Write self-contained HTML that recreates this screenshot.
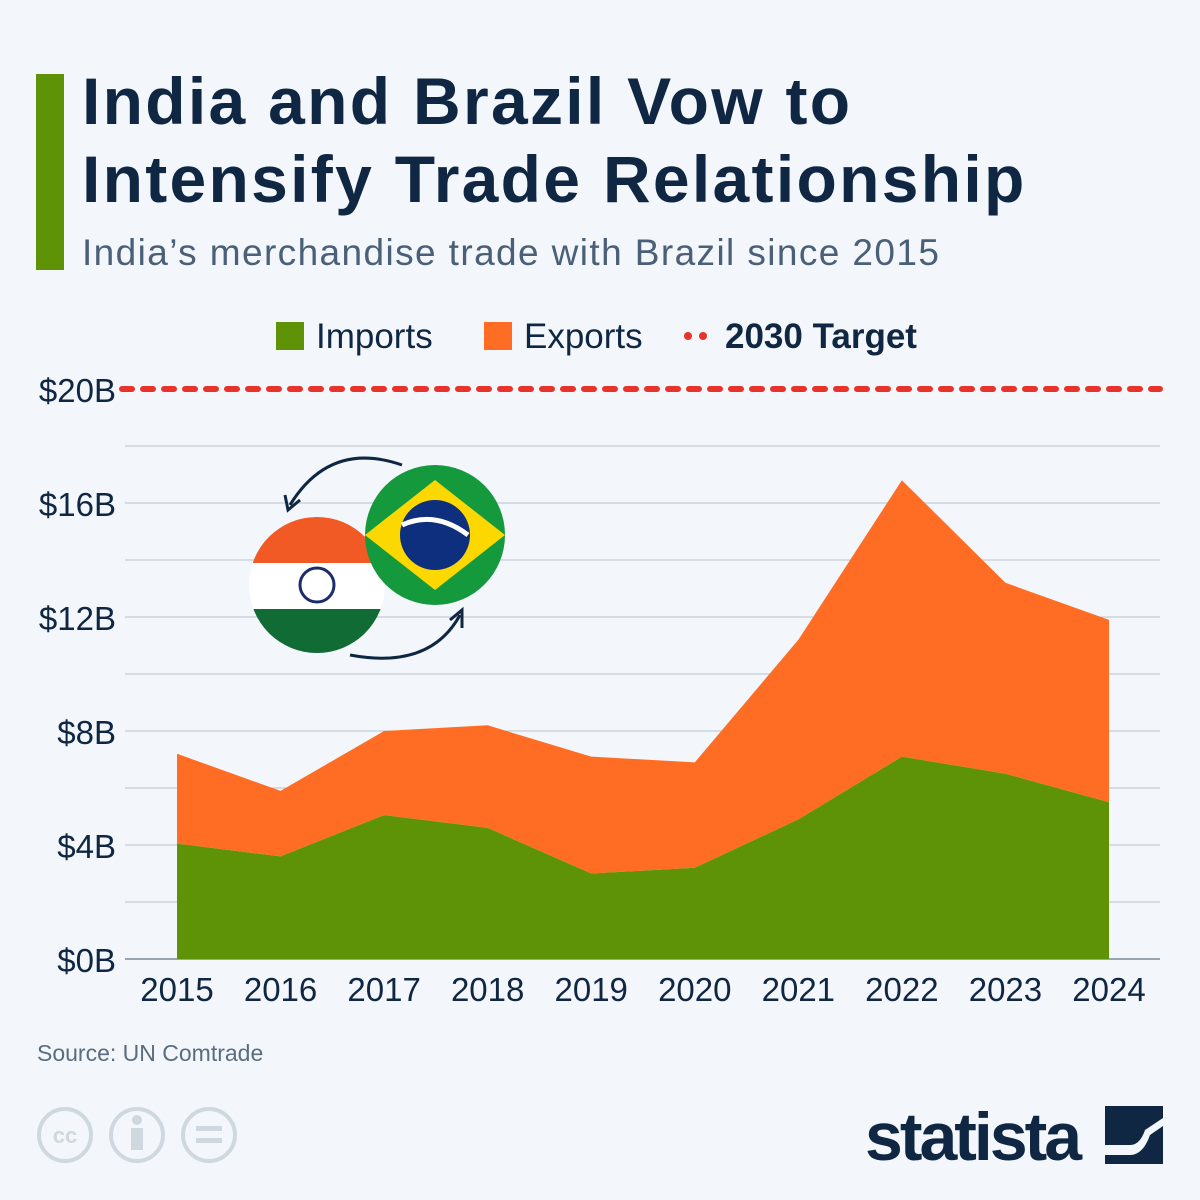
<!DOCTYPE html>
<html><head><meta charset="utf-8"><style>
body{margin:0;width:1200px;height:1200px;background:#f3f6fa;font-family:"Liberation Sans","DejaVu Sans",sans-serif;overflow:hidden;position:relative}
.t{position:absolute;left:82px;top:62px;font-size:66px;font-weight:bold;color:#0f2742;line-height:78px;margin:0;letter-spacing:2.3px}
.bar{position:absolute;left:36px;top:74px;width:28px;height:196px;background:#5e9307}
.sub{position:absolute;left:82px;top:232px;font-size:37px;color:#4a6078;letter-spacing:1.4px}
.src{position:absolute;left:37px;top:1040px;font-size:23px;color:#5a6d80}
.logo{position:absolute;left:865px;top:1098px;font-size:68px;font-weight:bold;color:#0f2742;letter-spacing:-3px}
</style></head><body>
<div class="bar"></div>
<h1 class="t">India and Brazil Vow to<br>Intensify Trade Relationship</h1>
<div class="sub">India’s merchandise trade with Brazil since 2015</div>
<svg id="c" width="1200" height="1200" style="position:absolute;left:0;top:0"></svg>
<div class="src">Source: UN Comtrade</div>
<div class="logo">statista</div>
<svg width="1200" height="1200" style="position:absolute;left:0;top:0;pointer-events:none">
<g fill="none" stroke="#cfd7df" stroke-width="4">
<circle cx="65" cy="1135" r="26"/><circle cx="137" cy="1135" r="26"/><circle cx="209" cy="1135" r="26"/></g>
<text x="65" y="1143" font-size="22" font-weight="bold" fill="#cfd7df" text-anchor="middle" font-family="Liberation Sans">cc</text>
<rect x="196" y="1126" width="26" height="5" fill="#cfd7df"/><rect x="196" y="1138" width="26" height="5" fill="#cfd7df"/>
<circle cx="137" cy="1120" r="5" fill="#cfd7df"/><rect x="131" y="1128" width="12" height="22" fill="#cfd7df"/>
<g><rect x="1105" y="1106" width="58" height="58" fill="#0f2742"/><path d="M1105 1145 L1130 1145 Q1140 1145 1145 1130 L1163 1118 L1163 1126 L1150 1135 Q1143 1155 1130 1155 L1105 1155Z" fill="#f3f6fa"/></g>
</svg>
<script>
const years=["2015","2016","2017","2018","2019","2020","2021","2022","2023","2024"];
const imports=[4.05,3.6,5.05,4.6,3.0,3.2,4.9,7.1,6.5,5.5];
const exportVals=[3.15,2.3,2.95,3.6,4.1,3.7,6.3,9.7,6.7,6.4];
const yTicks=[0,4,8,12,16,20];
const target=20;
const svg=document.getElementById('c');
const NS='http://www.w3.org/2000/svg';
const xs=i=>177+i*(1109-177)/(years.length-1);
const ys=v=>959-v*28.5;
function mk(t,a){const e=document.createElementNS(NS,t);for(const k in a)e.setAttribute(k,a[k]);svg.appendChild(e);return e;}
for(let v=0;v<=18;v+=2){const l=mk('line',{x1:125,x2:1160,y1:ys(v),y2:ys(v),stroke:v===0?'#7a8a99':'#b9c3cc','stroke-width':v===0?1.5:1});

}
yTicks.forEach(v=>{const t=mk('text',{x:116,y:ys(v)+13,'font-size':33,fill:'#0f2742','text-anchor':'end'});t.textContent='$'+v+'B';

});
years.forEach((yr,i)=>{const t=mk('text',{x:xs(i),y:1001,'font-size':33,fill:'#0f2742','text-anchor':'middle'});t.textContent=yr;

});
const topPts=years.map((_,i)=>xs(i)+','+ys(imports[i]+exportVals[i])).join(' ');
const midPts=years.map((_,i)=>xs(i)+','+ys(imports[i])).reverse().join(' ');
const ex=mk('polygon',{points:topPts+' '+midPts,fill:'#ff6d24'});


const impPts=years.map((_,i)=>xs(i)+','+ys(imports[i])).join(' ')+' '+xs(years.length-1)+','+ys(0)+' '+xs(0)+','+ys(0);
const im=mk('polygon',{points:impPts,fill:'#5e9307'});


const tl=mk('line',{x1:122,x2:1160,y1:ys(target),y2:ys(target),stroke:'#e8332a','stroke-width':6,'stroke-dasharray':'10 11','stroke-linecap':'round'});


const lg=[['#5e9307','Imports',276],['#ff6d24','Exports',484]];
lg.forEach(([c,n,lx])=>{const r=mk('rect',{x:lx,y:322,width:28,height:28,fill:c});


const t=mk('text',{x:lx+40,y:348,'font-size':35,fill:'#0f2742'});t.textContent=n;

});
[688,703].forEach(cx=>{const d=mk('circle',{cx:cx,cy:336,r:4,fill:'#e8332a'});

});
const lt=mk('text',{x:725,y:348,'font-size':35,'font-weight':'bold',fill:'#0f2742'});lt.textContent='2030 Target';


const g=document.createElementNS(NS,'g');svg.appendChild(g);


g.innerHTML=`<defs><clipPath id="ci"><circle cx="317" cy="585" r="68"/></clipPath><clipPath id="cb"><circle cx="435" cy="535" r="70"/></clipPath></defs>
<g clip-path="url(#ci)"><rect x="249" y="517" width="136" height="46" fill="#f15a24"/><rect x="249" y="563" width="136" height="46" fill="#fff"/><rect x="249" y="609" width="136" height="46" fill="#116b35"/><circle cx="317" cy="585" r="17" fill="none" stroke="#1d2d6b" stroke-width="3"/></g>
<g clip-path="url(#cb)"><rect x="365" y="465" width="140" height="140" fill="#15993d"/><polygon points="365,535 435,480 505,535 435,590" fill="#fcd800"/><circle cx="435" cy="535" r="35" fill="#0d2f7e"/><path d="M402 525 Q435 510 468 535" stroke="#fff" stroke-width="5" fill="none"/></g>
<path d="M402 465 Q330 440 290 505" stroke="#0f2742" stroke-width="3" fill="none"/><path d="M285 495 L288 510 L300 500" stroke="#0f2742" stroke-width="3" fill="none"/>
<path d="M350 655 Q430 670 460 615" stroke="#0f2742" stroke-width="3" fill="none"/><path d="M450 620 L462 610 L462 628" stroke="#0f2742" stroke-width="3" fill="none"/>`;
</script>
</body></html>
